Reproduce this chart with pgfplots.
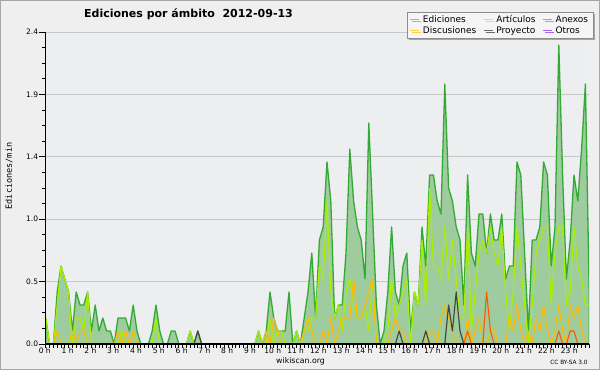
\documentclass[border=0pt]{standalone}
\usepackage{fontspec}
\setmainfont{DejaVu Sans}
\newfontfamily\monofont{DejaVu Sans Mono}
\usepackage{pgfplots}
\usepackage{pgfplotstable}
\pgfplotsset{compat=1.18}
\usetikzlibrary{shadows}
\definecolor{bgout}{RGB}{239,239,239}
\definecolor{bgplot}{RGB}{236,238,240}
\definecolor{edline}{RGB}{51,170,51}
\definecolor{edfill}{RGB}{158,204,158}
\definecolor{art}{RGB}{170,238,0}
\definecolor{disc}{RGB}{255,187,0}
\definecolor{anex}{RGB}{255,90,0}
\definecolor{proy}{RGB}{68,68,68}
\definecolor{otros}{RGB}{153,51,255}
\definecolor{gridc}{RGB}{200,200,200}
\pgfplotstableread{
i ed art disc anex proy
0 0.2 0.2 0 0 0
1 0 0 0 0 0
2 0 0 0 0 0
3 0.4 0.3 0.1 0 0
4 0.6 0.6 0 0 0
5 0.5 0.5 0 0 0
6 0.4 0.4 0 0 0
7 0.1 0 0.1 0 0
8 0.4 0.2 0 0 0
9 0.3 0.2 0.1 0 0
10 0.3 0.1 0.1 0 0
11 0.4 0.4 0 0 0
12 0.1 0 0 0 0
13 0.3 0 0 0 0
14 0.1 0 0 0 0
15 0.2 0 0 0 0
16 0.1 0 0 0 0
17 0.1 0 0 0 0
18 0 0 0 0 0
19 0.2 0 0.1 0 0
20 0.2 0.1 0 0 0
21 0.2 0 0.1 0 0
22 0.1 0 0 0 0
23 0.3 0 0.1 0 0
24 0.1 0 0 0 0
25 0 0 0 0 0
26 0 0 0 0 0
27 0 0 0 0 0
28 0.1 0 0 0 0
29 0.3 0.2 0 0 0
30 0.1 0 0 0 0
31 0 0 0 0 0
32 0 0 0 0 0
33 0.1 0 0 0 0
34 0.1 0 0 0 0
35 0 0 0 0 0
36 0 0 0 0 0
37 0 0 0 0 0
38 0.1 0.1 0 0 0
39 0 0 0 0 0
40 0.1 0 0 0 0.1
41 0 0 0 0 0
42 0 0 0 0 0
43 0 0 0 0 0
44 0 0 0 0 0
45 0 0 0 0 0
46 0 0 0 0 0
47 0 0 0 0 0
48 0 0 0 0 0
49 0 0 0 0 0
50 0 0 0 0 0
51 0 0 0 0 0
52 0 0 0 0 0
53 0 0 0 0 0
54 0 0 0 0 0
55 0 0 0 0 0
56 0.1 0.1 0 0 0
57 0 0 0 0 0
58 0.1 0 0.1 0 0
59 0.4 0.2 0 0 0
60 0.2 0 0.2 0 0
61 0.1 0.1 0.1 0 0
62 0.1 0.1 0 0 0
63 0.1 0 0 0 0
64 0.4 0 0 0 0
65 0 0 0 0 0
66 0.1 0.1 0 0 0
67 0 0 0 0 0
68 0.2 0.1 0.1 0 0
69 0.4 0.1 0.2 0 0
70 0.7 0.2 0.1 0 0
71 0.2 0.2 0 0 0
72 0.8 0.6 0 0 0
73 0.9 0.5 0.1 0 0
74 1.4 1.1 0 0 0
75 1.1 0.4 0.2 0 0
76 0.2 0.2 0 0 0
77 0.3 0.3 0.1 0 0
78 0.3 0.1 0.2 0 0
79 0.7 0.4 0.2 0 0
80 1.5 0.5 0.2 0 0
81 1.1 0.3 0.5 0 0
82 0.9 0.2 0.2 0 0
83 0.8 0.2 0.2 0 0
84 0.5 0.3 0.3 0 0
85 1.7 0.1 0.4 0 0
86 1.0 0.5 0.5 0 0
87 0.3 0 0 0 0
88 0 0 0 0 0
89 0.1 0 0 0 0
90 0.4 0.1 0 0 0
91 0.9 0.5 0.1 0 0
92 0.4 0.2 0.2 0 0
93 0.3 0.3 0.1 0 0.1
94 0.6 0.4 0.1 0 0
95 0.7 0.5 0 0 0
96 0.1 0 0 0 0
97 0.4 0.4 0 0 0
98 0.3 0.3 0 0 0
99 0.9 0.8 0 0 0
100 0.6 0.3 0 0 0.1
101 1.3 1.2 0.1 0 0
102 1.3 0.6 0.1 0 0
103 1.1 0.6 0 0 0
104 1.0 0.5 0.2 0 0
105 2.0 0.9 0.3 0 0
106 1.2 0.5 0.2 0 0.3
107 1.1 0.8 0.1 0 0.1
108 0.9 0.5 0 0 0.4
109 0.8 0.2 0 0 0.1
110 0.3 0.2 0 0 0
111 1.3 0.9 0.2 0.1 0
112 0.7 0.1 0 0 0
113 0.6 0.4 0.1 0 0
114 1.0 0.7 0.2 0 0
115 1.0 0.8 0 0 0
116 0.7 0.7 0 0.4 0
117 1.0 0.9 0.1 0.1 0
118 0.8 0.7 0.1 0 0
119 0.8 0.6 0 0 0
120 1.0 0.9 0 0 0
121 0.5 0.4 0 0 0
122 0.6 0.1 0.2 0 0
123 0.6 0.4 0.1 0 0
124 1.4 0.9 0.3 0 0
125 1.3 0.6 0.1 0 0
126 0.7 0.3 0 0 0
127 0.1 0 0.1 0 0
128 0.8 0.3 0 0 0
129 0.8 0.7 0.2 0 0
130 0.9 0.8 0.1 0 0
131 1.4 0.9 0.3 0 0
132 1.3 0.9 0.1 0 0
133 0.6 0.3 0 0 0
134 0.9 0.7 0.1 0 0
135 2.3 0.9 0.3 0.1 0
136 1.3 0.9 0.1 0 0
137 0.5 0.3 0 0 0
138 0.8 0.4 0.3 0.1 0
139 1.3 0.9 0.2 0.1 0
140 1.1 0.6 0.3 0 0
141 1.5 0.5 0.1 0 0
142 2.0 0.3 0 0 0
143 0.4 0.3 0 0 0
}\datatable
\pgfplotsset{
  samebox/.style={
    at={(45.8pt,26pt)}, anchor=south west,
    scale only axis, width=543.4pt, height=312pt,
    xmin=0, xmax=143, ymin=0, ymax=2.4,
  }
}
\begin{document}
\begin{tikzpicture}
\fill[bgout] (0pt,0pt) rectangle (600pt,370pt);
\draw[black!35, line width=1pt] (0.5pt,0.5pt) rectangle (599.5pt,369.5pt);
\begin{axis}[
  samebox,
  axis background/.style={fill=bgplot},
  axis lines*=left,
  axis line style={black, line width=1pt},
  ytick={0,0.48,0.96,1.44,1.92,2.4},
  yticklabels={0.0,0.5,1.0,1.4,1.9,2.4},
  minor ytick={0.12,0.24,0.36,0.6,0.72,0.84,1.08,1.2,1.32,1.56,1.68,1.8,2.04,2.16,2.28},
  ymajorgrids, major grid style={gridc, line width=0.8pt},
  xtick={0,6,...,138},
  xticklabels={0 h,1 h,2 h,3 h,4 h,5 h,6 h,7 h,8 h,9 h,10 h,11 h,12 h,13 h,14 h,15 h,16 h,17 h,18 h,19 h,20 h,21 h,22 h,23 h},
  minor xtick={0,1,...,143},
  major x tick style={draw=none},
  tick align=outside,
  major tick length=7pt, minor tick length=3.5pt,
  tick style={black, line width=0.8pt},
  ticklabel style={font=\fontsize{7.5}{8}\selectfont},
  yticklabel style={inner xsep=0.5pt},
  xticklabel style={inner ysep=0pt, yshift=3pt, xshift=-1pt},
  legend columns=3,
  legend cell align=left,
  legend style={at={(1.0075,1.064)}, anchor=north east, fill=white!96!black, draw=black!45,
    font=\fontsize{9}{9}\selectfont, inner xsep=3pt, inner ysep=1pt, row sep=-1.5pt,
    drop shadow={shadow xshift=2pt, shadow yshift=-2pt, fill=black!35, opacity=1},
    /tikz/every odd column/.append style={column sep=1pt},
    /tikz/every even column/.append style={column sep=5pt}},
  legend image code/.code={\draw[#1] (0pt,0pt) -- (9pt,0pt);},
]
\addplot[draw=edline, line width=1.3pt, fill=edfill, line join=round, forget plot] table[x=i, y=ed] {\datatable} \closedcycle;
\addplot[draw=art, line width=1.15pt, line join=round, forget plot] table[x=i, y=art] {\datatable};
\addplot[draw=disc, line width=1.15pt, line join=round, forget plot] table[x=i, y=disc] {\datatable};
\addplot[draw=anex, line width=1.15pt, line join=round, forget plot] table[x=i, y=anex] {\datatable};
\addplot[draw=proy, line width=1.15pt, line join=round, forget plot] table[x=i, y=proy] {\datatable};
\addlegendimage{draw=edline!60, line width=1pt}
\addlegendentry{Ediciones}
\addlegendimage{draw=art!70, line width=1pt}
\addlegendentry{Artículos}
\addlegendimage{draw=anex!70, line width=1pt}
\addlegendentry{Anexos}
\addlegendimage{draw=disc!70, line width=1pt}
\addlegendentry{Discusiones}
\addlegendimage{draw=proy!80, line width=1pt}
\addlegendentry{Proyecto}
\addlegendimage{draw=otros!80, line width=1pt}
\addlegendentry{Otros}
\end{axis}
\begin{axis}[
  samebox,
  axis lines*=left,
  axis line style={black, line width=1.2pt},
  xtick=\empty, ytick=\empty,
]
\end{axis}
\node[font=\bfseries\fontsize{11}{12}\selectfont] at (188.5pt,356pt) {Ediciones por ámbito\ \ 2012-09-13};
\node[rotate=90, font=\monofont\fontsize{8.5}{9}\selectfont] at (9pt,194pt) {Ediciones/min};
\node[font=\fontsize{7.8}{8}\selectfont] at (300.5pt,8.5pt) {wikiscan.org};
\node[font=\fontsize{5.8}{6}\selectfont] at (569pt,8pt) {CC BY-SA 3.0};
\pgfresetboundingbox
\path[use as bounding box] (0pt,0pt) rectangle (600pt,370pt);
\end{tikzpicture}
\end{document}
